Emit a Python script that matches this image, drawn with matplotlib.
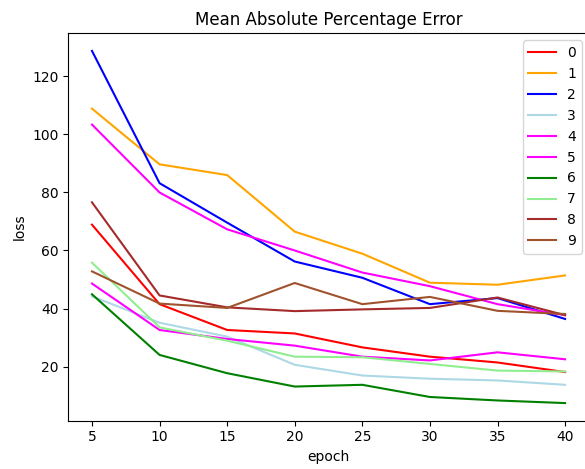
import numpy as np
import matplotlib
matplotlib.use("Agg")
import matplotlib.pyplot as plt

# epochs on the x axis
epochs = [5, 10, 15, 20, 25, 30, 35, 40]

# MAPE per run
run0 = [68.9, 41.5, 32.6, 31.4, 26.6, 23.4, 21.4, 18.1]
run1 = [108.9, 89.7, 86.0, 66.5, 58.9, 48.9, 48.2, 51.4]
run2 = [128.8, 83.2, 69.6, 56.2, 50.6, 41.5, 43.6, 36.4]
run3 = [44.2, 35.1, 30.3, 20.6, 16.9, 15.8, 15.2, 13.7]
run4 = [103.4, 80.0, 67.3, 60.0, 52.4, 47.7, 41.5, 37.7]
run5 = [48.6, 32.6, 29.5, 27.2, 23.4, 22.1, 24.9, 22.5]
run6 = [44.9, 24.0, 17.7, 13.1, 13.7, 9.5, 8.3, 7.4]
run7 = [55.8, 33.5, 28.9, 23.4, 23.2, 20.9, 18.6, 18.3]
run8 = [76.6, 44.5, 40.4, 39.1, 39.7, 40.2, 43.8, 37.7]
run9 = [52.8, 41.7, 40.2, 48.8, 41.5, 44.0, 39.2, 38.1]

runs = [run0, run1, run2, run3, run4, run5, run6, run7, run8, run9]
labels = ["0", "1", "2", "3", "4", "5", "6", "7", "8", "9"]
colors = ["red", "orange", "blue", "lightblue", "magenta", "fuchsia",
          "green", "lightgreen", "brown", "sienna"]

fig = plt.figure(figsize=(5.85, 4.69), dpi=100)
# the original was cropped: the right edge of the axes falls outside the image
ax = fig.add_axes([0.1168, 0.103, 0.8896, 0.826])

for vals, lab, col in zip(runs, labels, colors):
    ax.plot(epochs, vals, color=col, label=lab)

ax.set_title("Mean Absolute Percentage Error")
ax.set_xlabel("epoch")
ax.set_ylabel("loss")
ax.legend(loc="upper right")
ax.spines["right"].set_visible(False)

fig.savefig("out.png", dpi=100)
